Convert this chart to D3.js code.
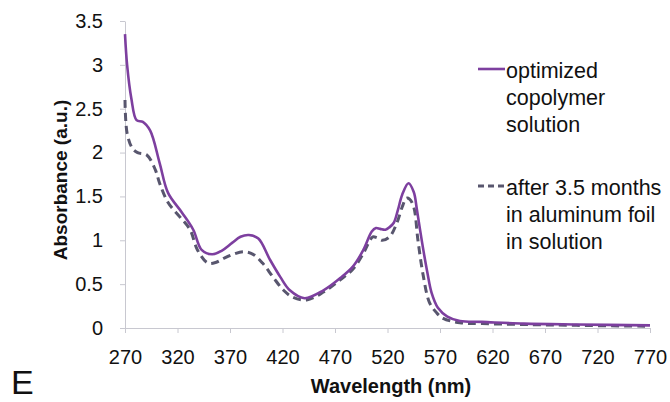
<!DOCTYPE html>
<html><head><meta charset="utf-8">
<script src="https://cdn.jsdelivr.net/npm/d3@7"></script>
<style>body{margin:0;background:#fff}svg{display:block;font-family:"Liberation Sans",Arial,sans-serif}</style>
</head><body><svg id="c" width="670" height="402"></svg>
<script>
const xTicks = [270,320,370,420,470,520,570,620,670,720,770];
const yTicks = [0,0.5,1,1.5,2,2.5,3,3.5];
const yTickLabels = ["0","0.5","1","1.5","2","2.5","3","3.5"];
const optWl  = [270,272,276,281,287,294,303,311,324,335,343,353,362,372,380,388,397,408,418,427,441,459,475,487,497,505,509,513,518,522,526,530,534,540,545,548,553,558,562,568,577,589,610,650,700,770];
const optAbs = [3.35,3.0,2.62,2.37,2.35,2.25,1.88,1.54,1.32,1.12,0.89,0.84,0.88,0.97,1.04,1.06,1.02,0.78,0.58,0.43,0.34,0.43,0.57,0.70,0.89,1.10,1.14,1.13,1.12,1.15,1.20,1.35,1.52,1.65,1.55,1.35,0.97,0.63,0.40,0.23,0.13,0.08,0.07,0.05,0.04,0.03];
const agedWl  = [270,272,277,282,291,299,303,311,322,332,339,349,357,365,373,383,392,401,411,421,430,443,459,475,487,497,502,506,510,515,522,529,534,538,541,545,549,554,560,567,573,589,610,650,700,770];
const agedAbs = [2.6,2.22,2.05,2.0,1.97,1.80,1.65,1.43,1.27,1.12,0.89,0.74,0.75,0.80,0.84,0.87,0.84,0.74,0.58,0.43,0.35,0.32,0.41,0.55,0.67,0.85,0.97,1.04,1.03,1.00,1.04,1.2,1.38,1.48,1.47,1.38,1.0,0.6,0.29,0.17,0.11,0.06,0.05,0.04,0.03,0.02];
const seriesNames = [["optimized","copolymer","solution"],["after 3.5 months","in aluminum foil","in solution"]];

const svg = d3.select("#c");
const x = d3.scaleLinear().domain([270,770]).range([125,650]);
const y = d3.scaleLinear().domain([0,3.5]).range([328,21]);
const axisColor = "#c8c8d0";

const xa = svg.append("g").attr("transform","translate(0,328)")
  .call(d3.axisBottom(x).tickValues(xTicks).tickSize(5).tickSizeOuter(0).tickFormat(d3.format("d")));
xa.select(".domain").attr("stroke",axisColor);
xa.selectAll(".tick line").attr("stroke",axisColor);
xa.selectAll(".tick text").attr("fill","#111").attr("font-size",20).attr("dy","1.4em");

const ya = svg.append("g").attr("transform","translate(125,0)")
  .call(d3.axisLeft(y).tickValues(yTicks).tickSize(5).tickSizeOuter(0).tickFormat((d,i)=>yTickLabels[i]));
ya.select(".domain").attr("stroke",axisColor);
ya.selectAll(".tick line").attr("stroke",axisColor);
ya.selectAll(".tick text").attr("fill","#111").attr("font-size",20).attr("x",-22);

const line = d3.line().x(d=>x(d[0])).y(d=>y(d[1])).curve(d3.curveCatmullRom.alpha(0.5));
const opt = optWl.map((w,i)=>[w,optAbs[i]]);
const aged = agedWl.map((w,i)=>[w,agedAbs[i]]);

svg.append("path").datum(aged).attr("d",line).attr("fill","none")
  .attr("stroke","#58566e").attr("stroke-width",3).attr("stroke-dasharray","8,5");
svg.append("path").datum(opt).attr("d",line).attr("fill","none")
  .attr("stroke","#7d3f9f").attr("stroke-width",2.6);

// axis titles
svg.append("text").attr("x",391).attr("y",393).attr("text-anchor","middle")
  .attr("font-size",20).attr("font-weight","bold").attr("fill","#111").text("Wavelength (nm)");
svg.append("text").attr("transform","translate(67,180) rotate(-90)").attr("text-anchor","middle")
  .attr("font-size",19).attr("font-weight","bold").attr("fill","#111").text("Absorbance (a.u.)");
svg.append("text").attr("x",11).attr("y",394).attr("font-size",34).attr("fill","#111").text("E");

// legend
const lg = svg.append("g");
const legendRows = [{y:69, stroke:"#7d3f9f", dash:null, w:2.6},{y:186, stroke:"#58566e", dash:"6,4", w:3}];
legendRows.forEach((r,i)=>{
  lg.append("line").attr("x1",478).attr("x2",505).attr("y1",r.y).attr("y2",r.y)
    .attr("stroke",r.stroke).attr("stroke-width",r.w).attr("stroke-dasharray",r.dash);
  seriesNames[i].forEach((t,j)=>{
    lg.append("text").attr("x",506).attr("y",r.y+9+j*27).attr("font-size",21.5).attr("fill","#111").text(t);
  });
});
</script></body></html>
